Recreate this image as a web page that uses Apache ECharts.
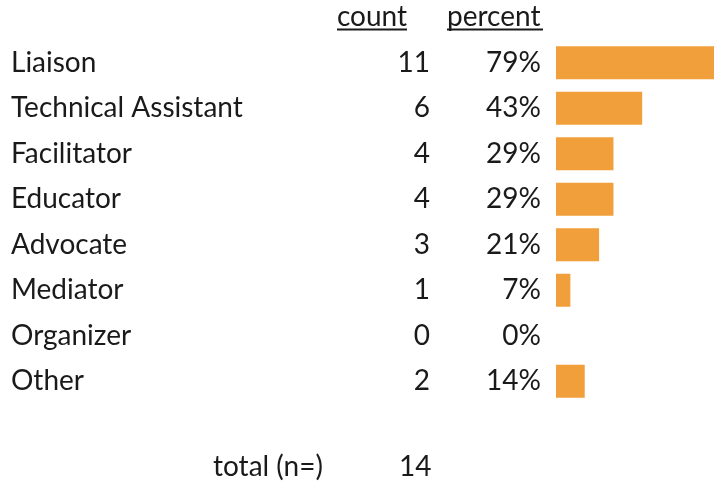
<!DOCTYPE html>
<html>
<head>
<meta charset="utf-8">
<script src="https://cdn.jsdelivr.net/npm/echarts@6/dist/echarts.min.js"></script>
<style>
  html, body { margin: 0; padding: 0; background: #fff; }
  #chart { width: 714px; height: 486px; }
</style>
</head>
<body>
<div id="chart"></div>
<script>
// roles and how many respondents picked each
var roles = ["Liaison", "Technical Assistant", "Facilitator", "Educator", "Advocate", "Mediator", "Organizer", "Other"];
var counts = [11, 6, 4, 4, 3, 1, 0, 2];
var totalN = 14;

var FONT = "Lato";
var SIZE = 28;
var TEXT = "#1a1a1a";
var ORANGE = "#F19F3B";

var percents = counts.map(function (c) { return Math.round(c / totalN * 100); });

var chart = echarts.init(document.getElementById("chart"));

function labelAxis(margin, align, fmt) {
  return {
    type: "category",
    data: roles,
    inverse: true,
    position: "left",
    gridIndex: 0,
    axisLine: { show: false },
    axisTick: { show: false },
    splitLine: { show: false },
    axisLabel: {
      margin: margin,
      align: align,
      fontFamily: FONT,
      fontSize: SIZE,
      color: TEXT,
      formatter: fmt
    }
  };
}

var option = {
  animation: false,
  grid: { left: 556, right: 0, top: 40, bottom: 82, containLabel: false },
  xAxis: {
    type: "value",
    min: 0,
    max: 11,
    show: false
  },
  yAxis: [
    labelAxis(545, "left", function (v) { return v; }),
    labelAxis(126, "right", function (v, i) { return String(counts[i]); }),
    labelAxis(15, "right", function (v, i) { return percents[i] + "%"; })
  ],
  series: [{
    type: "bar",
    yAxisIndex: 0,
    data: counts,
    barWidth: 33,
    itemStyle: { color: ORANGE }
  }],
  graphic: [
    // column headers, underlined
    { type: "text", left: 337, top: 3, style: { text: "count", font: SIZE + "px " + FONT, fill: TEXT } },
    { type: "line", shape: { x1: 337, y1: 29.5, x2: 407, y2: 29.5 }, style: { stroke: TEXT, lineWidth: 2 } },
    { type: "text", left: 447, top: 3, style: { text: "percent", font: SIZE + "px " + FONT, fill: TEXT } },
    { type: "line", shape: { x1: 447, y1: 29.5, x2: 543, y2: 29.5 }, style: { stroke: TEXT, lineWidth: 2 } },
    // total row
    { type: "text", left: 213, top: 453, style: { text: "total (n=)", font: SIZE + "px " + FONT, fill: TEXT } },
    { type: "text", left: 399, top: 453, style: { text: String(totalN), font: SIZE + "px " + FONT, fill: TEXT } }
  ]
};

chart.setOption(option);
</script>
</body>
</html>
